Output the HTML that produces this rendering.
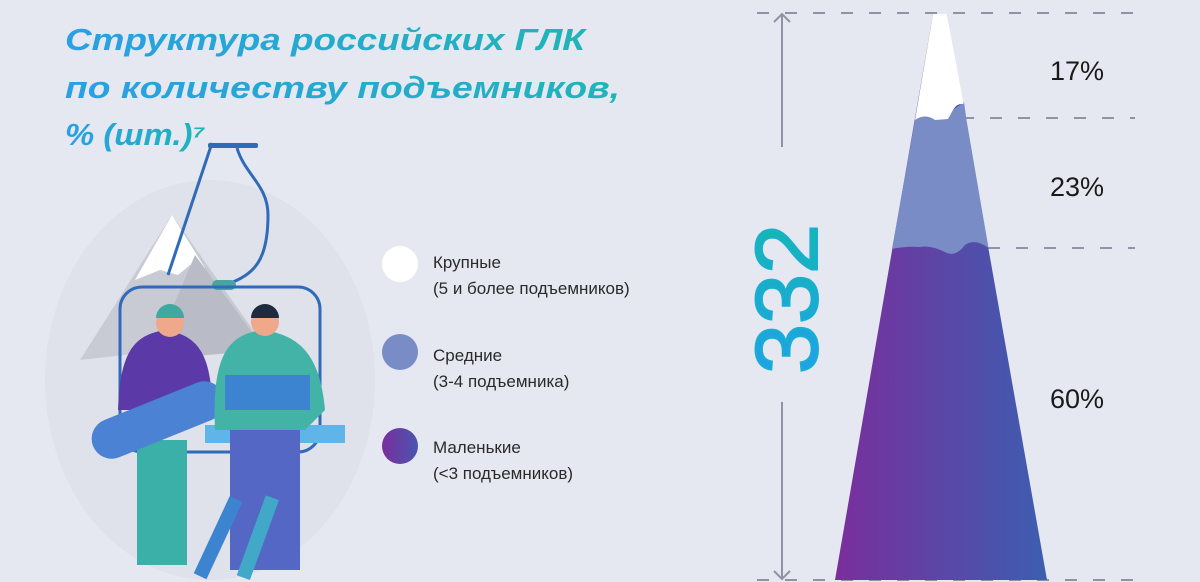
<!DOCTYPE html>
<html><head><meta charset="utf-8"><style>
html,body{margin:0;padding:0;background:#e5e8f0;}
svg{display:block}
text{font-family:"Liberation Sans","DejaVu Sans",sans-serif}
</style></head><body>
<svg width="1200" height="582" viewBox="0 0 1200 582" xmlns="http://www.w3.org/2000/svg">
<defs>
<linearGradient id="tg" x1="0" x2="1" y1="0" y2="0"><stop offset="0" stop-color="#2a9fe6"/><stop offset="1" stop-color="#1fb5b8"/></linearGradient>
<linearGradient id="ng" x1="0" x2="1" y1="0" y2="0"><stop offset="0" stop-color="#1fa0ec"/><stop offset="1" stop-color="#13b8b0"/></linearGradient>
<linearGradient id="mg" x1="0" x2="1" y1="0" y2="0"><stop offset="0" stop-color="#7a2e9c"/><stop offset="1" stop-color="#3c5eb0"/></linearGradient>
<linearGradient id="lg" x1="0" x2="1"><stop offset="0" stop-color="#7a2e9c"/><stop offset="1" stop-color="#4a55b0"/></linearGradient>
</defs>
<rect width="1200" height="582" fill="#e5e8f0"/>
<!-- title -->
<g font-weight="bold" font-style="italic" font-size="31" fill="url(#tg)">
<text x="65" y="50" textLength="520" lengthAdjust="spacingAndGlyphs">Структура российских ГЛК</text>
<text x="65" y="98" textLength="555" lengthAdjust="spacingAndGlyphs">по количеству подъемников,</text>
<text x="65" y="145" textLength="140" lengthAdjust="spacingAndGlyphs">% (шт.)⁷</text>
</g>
<!-- illustration -->
<ellipse cx="210" cy="380" rx="165" ry="200" fill="#dfe2ea"/>
<polygon points="80,360 172,215 260,340" fill="#c8cbd3"/>
<polygon points="135,280 172,215 205,268 190,265 178,275 160,270" fill="#fff"/>
<polygon points="150,360 195,255 265,350" fill="#b9bcc6"/>
<path d="M212,143 L168,275" stroke="#2f6bb8" stroke-width="3" fill="none"/>
<path d="M237,148 C245,175 268,185 268,215 C268,260 255,275 225,285" stroke="#2f6bb8" stroke-width="3" fill="none"/>
<rect x="208" y="143" width="50" height="5" rx="2" fill="#2f6bb8"/>
<rect x="212" y="280" width="24" height="10" rx="5" fill="#4aa5a0"/>
<rect x="120" y="287" width="200" height="165" rx="22" fill="none" stroke="#2f6bb8" stroke-width="3"/>
<rect x="205" y="425" width="140" height="18" fill="#5fb4e8"/>
<!-- woman -->
<rect x="137" y="440" width="50" height="125" fill="#3bb0a8"/>
<path d="M118,410 C120,350 135,335 165,330 C195,335 212,350 212,410 Z" fill="#5b3aa8"/>
<circle cx="170" cy="323" r="14" fill="#f0a88a"/>
<path d="M156,318 a14,14 0 0 1 28,0 z" fill="#3fa8a0"/>
<rect x="88" y="400" width="140" height="40" rx="20" transform="rotate(-22 158 420)" fill="#4b82d4"/>
<!-- man -->
<rect x="230" y="420" width="70" height="150" fill="#5567c4"/>
<path d="M215,430 C212,360 225,335 262,330 C300,335 320,355 325,410 L305,430 Z" fill="#42b3a6"/>
<rect x="225" y="375" width="85" height="35" fill="#3c84d0"/>
<circle cx="265" cy="322" r="14" fill="#f0a88a"/>
<path d="M251,318 a14,14 0 0 1 28,0 z" fill="#1e2a40"/>
<rect x="210" y="495" width="14" height="85" transform="rotate(25 217 540)" fill="#3c84d0"/>
<rect x="250" y="495" width="14" height="85" transform="rotate(20 257 540)" fill="#42a8c8"/>
<!-- legend -->
<circle cx="400" cy="264" r="18" fill="#fff"/>
<circle cx="400" cy="352" r="18" fill="#7a8cc6"/>
<circle cx="400" cy="446" r="18" fill="url(#lg)"/>
<g font-size="17" fill="#2a2a2a">
<text x="433" y="268">Крупные</text>
<text x="433" y="294">(5 и более подъемников)</text>
<text x="433" y="361">Средние</text>
<text x="433" y="387">(3-4 подъемника)</text>
<text x="433" y="453">Маленькие</text>
<text x="433" y="479">(&lt;3 подъемников)</text>
</g>
<!-- dashed lines -->
<g stroke="#8e94a6" stroke-width="2" stroke-dasharray="12,16">
<line x1="757" y1="13" x2="1135" y2="13"/>
<line x1="962" y1="118" x2="1135" y2="118"/>
<line x1="988" y1="248" x2="1135" y2="248"/>
<line x1="757" y1="580" x2="1135" y2="580"/>
</g>
<!-- arrows -->
<g stroke="#8e94a6" stroke-width="2" fill="none">
<line x1="782" y1="14" x2="782" y2="147"/>
<polyline points="774,22 782,14 790,22"/>
<line x1="782" y1="402" x2="782" y2="579"/>
<polyline points="774,571 782,579 790,571"/>
</g>
<text transform="translate(817,299) rotate(-90)" text-anchor="middle" font-size="88" fill="url(#ng)" stroke="#1aaed0" stroke-width="2" textLength="150" lengthAdjust="spacingAndGlyphs">332</text>
<!-- mountain -->
<polygon points="933,14 947,14 1047,580 835,580" fill="url(#mg)"/>
<path d="M915,120 Q925,113 935,120 L948,118 L953,110 L964,102 L966.5,120 L988.5,248 Q975,238 965,245 Q955,258 945,252 Q930,245 920,247 Q905,246 892,249 L915,120 Z" fill="#7a8cc6"/>
<path d="M933,14 L947,14 L963.5,104 Q957,103 953,110 L948,119 L935,120 Q925,113 915,120 Z" fill="#fff"/>
<g font-size="27" fill="#1a1a1a">
<text x="1050" y="80">17%</text>
<text x="1050" y="196">23%</text>
<text x="1050" y="408">60%</text>
</g>
</svg>
</body></html>
